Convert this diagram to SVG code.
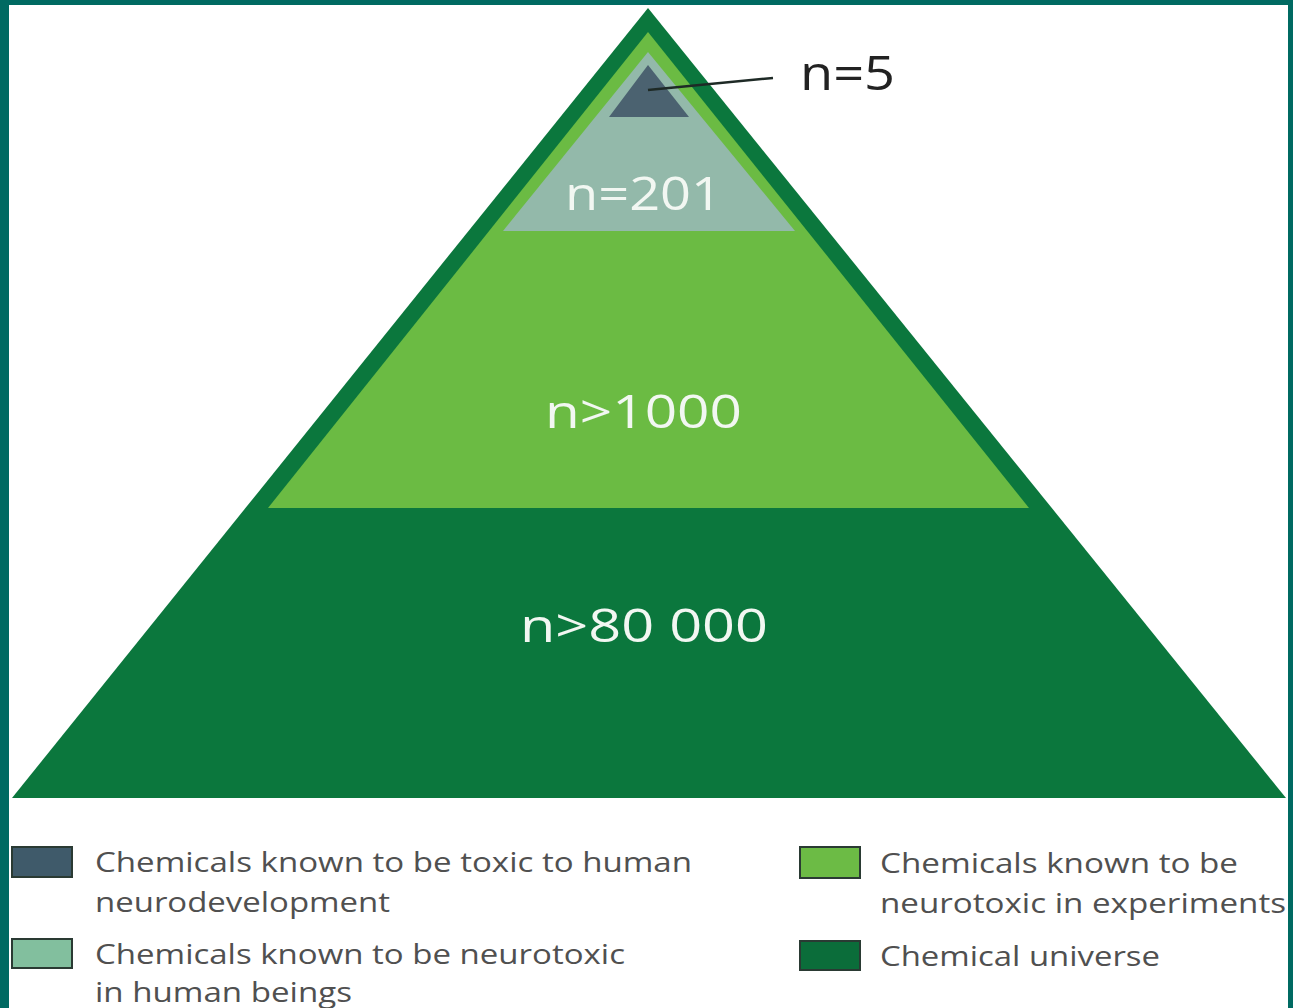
<svg xmlns="http://www.w3.org/2000/svg" width="1293" height="1008" viewBox="0 0 1293 1008">
  <style>
    .lbl { font-family: "Open Sans", "Liberation Sans", sans-serif; }
    .tier { fill: #f2f7f2; font-size: 46px; }
    .leg { fill: #505050; font-size: 28px; }
    .swatch { stroke: #2a3a33; stroke-width: 2; }
  </style>
  <!-- frame -->
  <rect x="0" y="0" width="1293" height="1008" fill="#ffffff"/>
  <rect x="0" y="0" width="9" height="1008" fill="#006a62"/>
  <rect x="0" y="0" width="1293" height="5" fill="#006a62"/>
  <rect x="1288" y="0" width="5" height="1008" fill="#006a62"/>

  <!-- pyramid tiers -->
  <g id="tier-universe">
    <polygon points="648,8 1286,798 12,798" fill="#0b773d"/>
    <text class="lbl tier" x="520" y="642" textLength="248" lengthAdjust="spacingAndGlyphs">n&gt;80 000</text>
  </g>
  <g id="tier-experiments">
    <polygon points="648,32 1029,508 268,508" fill="#6bbb43"/>
    <text class="lbl tier" x="545" y="428" textLength="197" lengthAdjust="spacingAndGlyphs">n&gt;1000</text>
  </g>
  <g id="tier-human">
    <polygon points="648,52 795,231 503,231" fill="#93b9aa"/>
    <text class="lbl tier" x="565" y="210" font-size="44" textLength="157" lengthAdjust="spacingAndGlyphs">n=201</text>
  </g>
  <g id="tier-development">
    <polygon points="648,65 689,117 609,117" fill="#4b6270"/>
  </g>

  <!-- leader from top tier to its count -->
  <g id="connectors">
    <line x1="648" y1="90" x2="773" y2="78" stroke="#1e2a26" stroke-width="2.5"/>
  </g>
  <g id="count-top">
    <text class="lbl" x="800" y="90" font-size="48" fill="#222222" textLength="95" lengthAdjust="spacingAndGlyphs">n=5</text>
  </g>

  <!-- legend -->
  <g id="legend-development">
    <rect class="swatch" x="12" y="847" width="60" height="30" fill="#3f5a6a"/>
    <text class="lbl leg" x="95" y="872" textLength="597" lengthAdjust="spacingAndGlyphs">Chemicals known to be toxic to human</text>
    <text class="lbl leg" x="95" y="912" textLength="295" lengthAdjust="spacingAndGlyphs">neurodevelopment</text>
  </g>
  <g id="legend-human">
    <rect class="swatch" x="12" y="939" width="60" height="29" fill="#82bf9e"/>
    <text class="lbl leg" x="95" y="964" textLength="530" lengthAdjust="spacingAndGlyphs">Chemicals known to be neurotoxic</text>
    <text class="lbl leg" x="95" y="1002" textLength="257" lengthAdjust="spacingAndGlyphs">in human beings</text>
  </g>
  <g id="legend-experiments">
    <rect class="swatch" x="800" y="847" width="60" height="31" fill="#6cbb45"/>
    <text class="lbl leg" x="880" y="873" textLength="358" lengthAdjust="spacingAndGlyphs">Chemicals known to be</text>
    <text class="lbl leg" x="880" y="913" textLength="406" lengthAdjust="spacingAndGlyphs">neurotoxic in experiments</text>
  </g>
  <g id="legend-universe">
    <rect class="swatch" x="800" y="941" width="60" height="29" fill="#0b6d3a"/>
    <text class="lbl leg" x="880" y="966" textLength="280" lengthAdjust="spacingAndGlyphs">Chemical universe</text>
  </g>
</svg>
